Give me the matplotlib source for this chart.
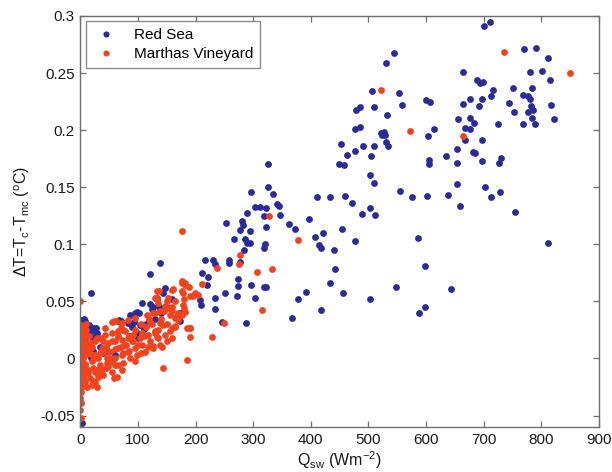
import numpy as np
import matplotlib.pyplot as plt

plt.rcParams['font.family'] = ['Liberation Sans', 'DejaVu Sans']
plt.rcParams['mathtext.default'] = 'regular'

# Red Sea: shortwave flux vs. temperature difference
red_sea_q = [
    700.7, 711.5, 770, 790.6, 812, 801, 780, 815.6, 750.7, 768, 776, 783, 780, 777, 786, 781,
    788, 767.6, 753, 744, 817, 821, 783.8, 754, 812,
    664, 688, 694, 698, 716, 712, 675.7, 697, 691, 663.5, 675.7, 655.5, 682.5, 724, 667, 676,
    667, 696, 654, 681, 684, 635, 729.7, 697, 726.6, 653.5, 605, 605, 702.7, 653.5, 727.7,
    712.7, 638, 658, 601, 642.6, 586.5, 598, 598, 588, 547, 502.7,
    599, 607, 613.5, 603, 558, 553, 554, 575, 544, 530, 506, 509, 532.5, 521, 527, 528.5, 523,
    531, 534, 510, 491, 505, 502, 509, 502.7, 512, 488, 478, 484.5, 476, 484.5, 477, 452, 448,
    457, 462, 458.5, 471, 434, 410, 477, 454, 421, 407, 413.5, 417, 441, 441.8, 434, 455, 417,
    397, 363, 372, 377, 391, 367.6,
    326.4, 334.5, 326.4, 340.6, 344, 346.6, 297, 302.7, 311.5, 322, 288.5, 318, 281, 281.8,
    321.7, 277, 294.5, 285, 288.5, 294, 284, 321, 318, 266, 253.4, 258, 257.5, 276.4, 230, 233,
    216, 221, 211.5, 219.6, 274, 273, 296, 319.6, 323, 271.4, 304, 233, 250.7, 207.4, 208.8,
    233, 287.6, 246,
    108, 147, 143, 133, 126, 136.5, 98, 102.7, 86, 173.6, 173.6, 71, 67.6, 119.6, 92.6, 98,
    138.5, 121.6, 19, 133, 121.6, 124.5, 95.4, 69.4, 83.8, 104, 110, 167.6,
    2.9, 8.7, 14.5, 23, 5.8, 17.3, 26, 11.6, 0.5, 20, 14.5, 23, 49, 61, 2.7,
    3, 6, 10, 28, 30, 4, 2, 8, 12, 18, 35, 40, 3, 75, 85, 100, 90, 115, 130, 140, 150, 160,
]
red_sea_dt = [
    0.291, 0.295, 0.271, 0.272, 0.263, 0.252, 0.2506, 0.244, 0.237, 0.231, 0.230, 0.237, 0.227,
    0.2155, 0.218, 0.221, 0.205, 0.205, 0.216, 0.224, 0.222, 0.210, 0.211, 0.1284, 0.1015,
    0.2506, 0.244, 0.241, 0.242, 0.235, 0.230, 0.227, 0.227, 0.221, 0.223, 0.211, 0.210, 0.206,
    0.205, 0.2015, 0.201, 0.1915, 0.191, 0.1836, 0.181, 0.180, 0.177, 0.176, 0.173, 0.171, 0.171,
    0.174, 0.170, 0.150, 0.1526, 0.146, 0.141, 0.143, 0.1336, 0.142, 0.0605, 0.1056, 0.0813,
    0.045, 0.0395, 0.0623, 0.0523,
    0.2266, 0.225, 0.2009, 0.195, 0.222, 0.2325, 0.1468, 0.1415, 0.2675, 0.2588, 0.2345, 0.2205,
    0.213, 0.1977, 0.198, 0.196, 0.1956, 0.1895, 0.1865, 0.1863, 0.1857, 0.1775, 0.1608, 0.154,
    0.132, 0.1257, 0.1266, 0.2178, 0.2199, 0.2012, 0.2026, 0.182, 0.1877, 0.1705, 0.1693, 0.1778,
    0.142, 0.136, 0.1418, 0.141, 0.103, 0.1132, 0.110, 0.106, 0.0994, 0.0965, 0.0953, 0.078,
    0.0664, 0.0576, 0.0424, 0.1222, 0.1175, 0.113, 0.0523, 0.0582, 0.0351,
    0.1503, 0.1439, 0.170, 0.1354, 0.1336, 0.126, 0.1456, 0.133, 0.133, 0.1316, 0.127, 0.1251,
    0.120, 0.1167, 0.1152, 0.1123, 0.112, 0.1047, 0.101, 0.1015, 0.095, 0.100, 0.0965, 0.1044,
    0.1184, 0.0863, 0.0833, 0.0842, 0.086, 0.0827, 0.086, 0.071, 0.0746, 0.0643, 0.0693, 0.0635,
    0.0643, 0.0629, 0.0629, 0.0544, 0.0532, 0.0526, 0.0573, 0.0512, 0.0468, 0.0433, 0.0313,
    0.0322,
    0.0488, 0.0614, 0.057, 0.0526, 0.0453, 0.0453, 0.041, 0.0395, 0.038, 0.0395, 0.033, 0.033,
    0.0336, 0.0336, 0.032, 0.022, 0.0839, 0.074, 0.0573, 0.0517, 0.0475, 0.0431, 0.0397, 0.0316,
    0.031, 0.029, 0.026, 0.0376,
    0.034, 0.0324, 0.0295, 0.0266, 0.0266, 0.0237, 0.0237, 0.0208, 0.0208, 0.0185, 0.0091,
    0.0062, 0.0062, 0.0032, -0.0564,
    0.030, 0.035, 0.028, 0.027, 0.022, 0.012, 0.005, 0.015, 0.004, 0.0, 0.010, 0.005, -0.005,
    0.025, 0.020, 0.018, 0.028, 0.030, 0.035, 0.040, 0.045, 0.052,
]

# Marthas Vineyard
mv_q = [
    734.5, 849, 663.5, 572, 521.6, 378, 327.7, 277, 275.7, 236.5, 306.8, 333, 316, 250, 229,
    177, 0,
    176, 182, 212, 159, 176, 188, 136, 199.5, 205, 196, 179.6, 133, 150, 147, 179.6, 182, 176,
    165, 185, 191, 191, 159, 165, 139, 130, 133, 150, 127, 139, 185,
    176.3, 182, 161.8, 179, 133, 130, 153, 164.7, 135.8, 190.7, 179, 150.3, 138.7, 159, 127,
    115.6, 95.4, 83.8, 72.3, 56, 170.5, 190.7, 164.7, 156, 144.5, 135.8, 121.4, 107, 92.4, 78,
    66.4, 55, 43.4, 34.7, 26, 17.3, 8.7, 135.8, 121.4, 107, 95.4, 83.8, 72.3, 60.7, 46.3, 31.7,
    20.3, 8.7, 141.7, 127, 112.7, 98.3, 86.7, 75, 60.7, 49, 37.6, 26, 14.4, 5.8, 144.5, 57.8,
    63.6, 26, 20.3, 29, 17.3, 8.7, 14.4, 26, 37.6, 49, 60.7, 72.3, 83.8, 40.4, 52, 66.4, 78,
    92.4, 104, 118.4, 130, 147.4, 159, 8.7, 2.9, 2.9, 11.6, 43.4, 23, 34.7, 46.3, 55, 72.3,
    31.7, 40.4, 58.8,
    1, 0.5, 1.5, 0.5, 1, 0.5, 1.5, 1, 0.5, 1, 1.5, 0.5, 1, 0.5, 1, 0.5,
    1, 0.5, 1.5, 1, 0.5, 1, 1.5, 0.5, 1, 0.5,
    3, 4, 5, 3, 6, 5, 7, 8, 9, 10, 12, 15, 13,
    10, 15, 20, 25, 30, 35, 40, 45, 50, 55, 60, 65, 70, 75, 80, 85, 90, 95, 100, 105, 110, 115,
    120, 125, 130, 140, 145, 150, 155, 160, 170, 45, 55, 65, 35, 22, 12, 10, 62, 70, 30, 18, 85,
    105, 118, 95,
]
mv_dt = [
    0.268, 0.250, 0.195, 0.1994, 0.235, 0.1038, 0.1249, 0.0906, 0.0827, 0.079, 0.0754, 0.0781,
    0.0421, 0.0313, 0.0184, 0.112, 0.0506,
    0.0676, 0.066, 0.065, 0.060, 0.0588, 0.0624, 0.0588, 0.0573, 0.056, 0.055, 0.052, 0.053,
    0.050, 0.046, 0.0438, 0.041, 0.038, 0.0355, 0.027, 0.0265, 0.019, 0.0268, 0.028, 0.031,
    0.024, 0.0184, 0.0153, 0.011, 0.0118, -0.0012,
    0.0661, 0.0646, 0.0611, 0.0573, 0.0593, 0.0529, 0.0529, 0.050, 0.0485, 0.0544, 0.0471,
    0.0441, 0.0412, 0.0418, 0.0397, 0.0383, 0.0353, 0.0339, 0.031, 0.0318, 0.0339, 0.0266,
    0.0281, 0.0237, 0.0295, 0.0251, 0.031, 0.0222, 0.0208, 0.0237, 0.0237, 0.0222, 0.0208,
    0.0178, 0.0149, 0.0134, 0.012, 0.0178, 0.0149, 0.012, 0.009, 0.0061, 0.0032, 0.0003, 0.0003,
    0.0003, -0.0026, -0.0055, 0.0105, 0.009, 0.0061, 0.0032, 0.0003, -0.0041, -0.0055, -0.007,
    -0.0099, -0.0114, -0.0129, -0.0143, -0.0085, -0.0173, -0.0158, -0.0202, -0.0231, -0.0246,
    -0.0173, -0.0202, 0.0061, 0.0032, 0.009, 0.0134, 0.0149, 0.0164, 0.0178, 0.0061, 0.0061,
    0.009, 0.012, 0.0149, 0.0178, 0.0208, 0.0222, 0.0208, 0.0178, 0.0032, -0.0026, 0.009, 0.0193,
    0.0266, -0.0085, -0.0055, -0.0041, -0.0114, -0.0099, -0.0158, -0.0143, 0.033,
    0.0295, 0.0237, 0.018, 0.0122, 0.0062, 0.0003, -0.0055, -0.0114, -0.0172, -0.023, -0.029,
    -0.0347, -0.039, -0.045, -0.052, 0.026, 0.021, 0.015, 0.009, 0.003, -0.003, -0.008, -0.014,
    -0.020, -0.026, -0.037,
    0.020, 0.010, 0.0, -0.010, -0.018, 0.025, 0.015, 0.005, -0.005, -0.012, 0.010, 0.020, -0.010,
    0.025, 0.005, 0.010, 0.0, -0.010, 0.005, 0.015, 0.010, 0.0, 0.015, 0.008, 0.020, 0.010,
    0.005, 0.012, 0.020, 0.015, 0.025, 0.012, 0.030, 0.020, 0.028, 0.035, 0.030, 0.040, 0.035,
    0.042, 0.030, 0.038, 0.045, 0.040, -0.008, -0.003, -0.006, -0.012, -0.020, -0.025, 0.030,
    0.033, 0.027, 0.018, 0.004, 0.007, 0.005, 0.010, -0.002,
]

xticks = [0, 100, 200, 300, 400, 500, 600, 700, 800, 900]
yticks = [-0.05, 0, 0.05, 0.1, 0.15, 0.2, 0.25, 0.3]
ytick_labels = ['-0.05', '0', '0.05', '0.1', '0.15', '0.2', '0.25', '0.3']

blue = '#2b2b97'
red = '#f2431f'
grey = '#6e6e6e'

fig = plt.figure(figsize=(6.12, 4.72), dpi=100)
ax = fig.add_axes([0.131, 0.0953, 0.848, 0.871])

ax.plot(red_sea_q, red_sea_dt, 'o', color=blue, markersize=4.9, markeredgewidth=0,
        label='Red Sea')
ax.plot(mv_q, mv_dt, 'o', color=red, markersize=4.9, markeredgewidth=0,
        label='Marthas Vineyard')

ax.set_xlim(0, 900)
ax.set_ylim(-0.06, 0.3)
ax.set_xticks(xticks)
ax.set_yticks(yticks)
ax.set_yticklabels(ytick_labels)

for s in ax.spines.values():
    s.set_color(grey)
    s.set_linewidth(1.0)
ax.tick_params(direction='in', length=4, width=0.9, color=grey, top=True, right=True,
               labelsize=11, labelcolor='#1a1a1a', pad=4)

ax.set_xlabel('Q$_{sw}$ (Wm$^{-2}$)', fontsize=11.5, color='#1a1a1a', labelpad=2)
ax.set_ylabel('ΔT=T$_c$-T$_{mc}$ ($^o$C)', fontsize=11.5, color='#1a1a1a', labelpad=6)

leg = ax.legend(loc='upper left', fontsize=11, frameon=True, fancybox=False,
                borderaxespad=0.35, handletextpad=0.9, handlelength=1.8,
                borderpad=0.45, labelspacing=0.35, markerscale=0.9)
leg.get_frame().set_edgecolor(grey)
leg.get_frame().set_linewidth(1.0)

fig.savefig('out.png', dpi=100)
